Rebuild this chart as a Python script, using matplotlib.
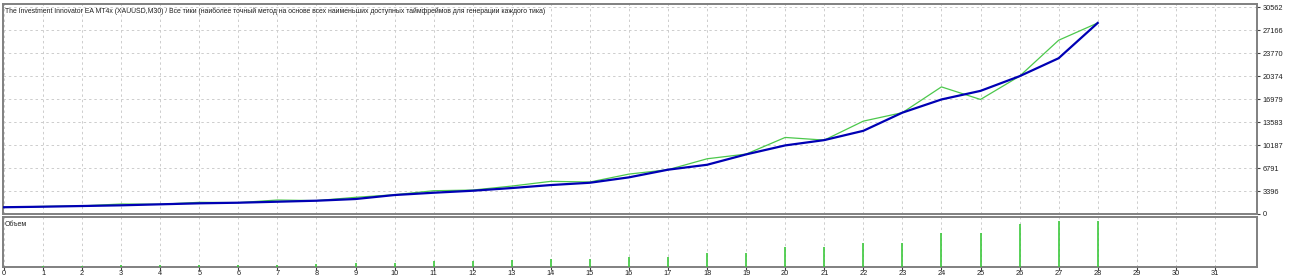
import matplotlib
matplotlib.use("Agg")
import matplotlib.pyplot as plt
from matplotlib import font_manager

names = {f.name for f in font_manager.fontManager.ttflist}
FONT = "Liberation Sans Narrow" if "Liberation Sans Narrow" in names else "Liberation Sans"
plt.rcParams['font.family'] = [FONT, 'DejaVu Sans']

title = ("The Investment Innovator EA MT4x (XAUUSD,M30) / Все тики (наиболее точный метод на основе "
         "всех наименьших доступных таймфреймов для генерации каждого тика)")
volume_label = "Объем"

trades = list(range(0, 29))
balance = [1000, 1078, 1181, 1284, 1432, 1580, 1668, 1816, 1964, 2215, 2805, 3145, 3440, 3839,
           4282, 4621, 5419, 6550, 7279, 8814, 10143, 10926, 12299, 14986, 16935, 18205, 20375,
           23032, 28245]
equity = [1000, 1120, 1200, 1476, 1440, 1727, 1680, 2067, 1980, 2466, 2850, 3440, 3540, 4130,
          4828, 4730, 5900, 6550, 8165, 8860, 11320, 10926, 13731, 14986, 18795, 16935, 20375,
          25690, 28245]
vol_x = list(range(1, 29))
volume = [0.1, 0.1, 0.2, 0.2, 0.2, 0.2, 0.25, 0.3, 0.4, 0.4, 0.6, 0.65, 0.75, 0.8, 0.8, 1.0,
          1.0, 1.4, 1.4, 2.0, 2.0, 2.4, 2.4, 3.4, 3.4, 4.3, 4.6, 4.6]
y_ticks = [0, 3396, 6791, 10187, 13583, 16979, 20374, 23770, 27166, 30562]
x_ticks = list(range(0, 32))

W, H = 1290, 280
fig = plt.figure(figsize=(W / 100, H / 100), dpi=100)
fig.patch.set_facecolor("white")

def fx(px):
    return px / W

def fy(py):
    return 1 - py / H

left, right = 3, 1257
ax = fig.add_axes([fx(left), fy(214), fx(right - left), fy(4) - fy(214)])
ax2 = fig.add_axes([fx(left), fy(267), fx(right - left), fy(217) - fy(267)])

xmin = -1 / 39.06
xmax = (right - 4) / 39.06
grid_kw = dict(color="#cdcdcd", linewidth=0.7, linestyle=(0, (2.5, 3)))

for a in (ax, ax2):
    a.set_xlim(xmin, xmax)
    a.set_xticks(x_ticks)
    a.set_facecolor("white")
    for s in a.spines.values():
        s.set_color("#808080")
        s.set_linewidth(1.4)
    a.xaxis.grid(True, **grid_kw)
    a.set_axisbelow(True)

# main panel
ax.set_ylim(0, 31050)
ax.set_yticks(y_ticks)
ax.yaxis.grid(True, **grid_kw)
ax.yaxis.tick_right()
ax.tick_params(axis="y", which="both", direction="out", length=2, width=0.8, color="#404040",
               labelsize=5.3, pad=2, labelcolor="#202020")
ax.tick_params(axis="x", which="both", length=0, labelbottom=False)
for lab in ax.get_yticklabels():
    lab.set_horizontalalignment("left")

ax.plot(trades, equity, color="#4cc84c", linewidth=0.9, zorder=3)
ax.plot(trades, balance, color="#0000b4", linewidth=1.6, zorder=4)

ax.text(0.0015, 0.985, title, transform=ax.transAxes, ha="left", va="top", fontsize=4.95,
        color="#202020")

# volume panel
ax2.set_ylim(0, 5.0)
ax2.set_yticks([])
ax2.vlines(vol_x, 0, volume, color="#3cc83c", linewidth=1.2, zorder=3)
ax2.tick_params(axis="x", which="both", direction="out", length=2, width=0.8, color="#404040",
                labelsize=5.3, pad=0.5, labelcolor="#202020")
ax2.text(0.0015, 0.93, volume_label, transform=ax2.transAxes, ha="left", va="top", fontsize=5.0,
         color="#202020")

fig.savefig("out.png", dpi=100, facecolor="white")
